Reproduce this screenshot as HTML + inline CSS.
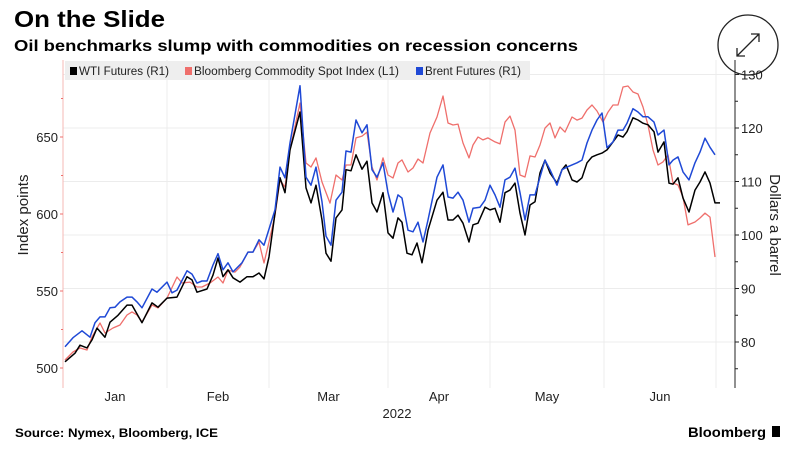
<!DOCTYPE html>
<html><head><meta charset="utf-8">
<style>
body{margin:0;background:#fff;width:795px;height:457px;overflow:hidden;font-family:"Liberation Sans",sans-serif;}
svg{display:block}
</style></head>
<body>
<svg id="chart" width="795" height="457" xmlns="http://www.w3.org/2000/svg">
  <text x="14" y="27" font-size="23" font-weight="bold" fill="#000" textLength="151" lengthAdjust="spacingAndGlyphs">On the Slide</text>
  <text x="14" y="51" font-size="16" font-weight="bold" fill="#000" textLength="564" lengthAdjust="spacingAndGlyphs">Oil benchmarks slump with commodities on recession concerns</text>
  <g>
    <circle cx="748" cy="45" r="30" fill="#fff" stroke="#222" stroke-width="1.3"/>
    <path d="M737 56 L759 34 M751 34 L759 34 L759 42 M737 48 L737 56 L745 56" stroke="#222" stroke-width="1.3" fill="none"/>
  </g>
  <g id="grid"></g>
  <rect x="65" y="61" width="465" height="19" fill="#eeeeee"/>
  <g font-size="11.5" fill="#222">
    <g><rect x="70" y="67" width="7" height="8" fill="#000"/><text x="79" y="75" textLength="90" lengthAdjust="spacingAndGlyphs">WTI Futures (R1)</text></g>
    <g><rect x="185" y="67" width="7" height="8" fill="#ef6f6c"/><text x="194" y="75" textLength="205" lengthAdjust="spacingAndGlyphs">Bloomberg Commodity Spot Index (L1)</text></g>
    <g><rect x="416" y="67" width="7" height="8" fill="#1f49d6"/><text x="425" y="75" textLength="96" lengthAdjust="spacingAndGlyphs">Brent Futures (R1)</text></g>
  </g>
  <g id="axes"></g>
  <g id="series"></g>
  <text transform="translate(28,215) rotate(-90)" text-anchor="middle" font-size="15" fill="#222">Index points</text>
  <text transform="translate(770,225) rotate(90)" text-anchor="middle" font-size="15" fill="#222">Dollars a barrel</text>
  <text x="397" y="418" text-anchor="middle" font-size="13" fill="#222">2022</text>
  <text x="15" y="437" font-size="11.5" font-weight="bold" fill="#000" textLength="203" lengthAdjust="spacingAndGlyphs">Source: Nymex, Bloomberg, ICE</text>
  <g>
    <text x="688" y="437" font-size="14" font-weight="bold" fill="#000" textLength="78" lengthAdjust="spacingAndGlyphs">Bloomberg</text>
    <rect x="772" y="426" width="8" height="11" fill="#000"/>
  </g>
</svg>
<script>
const monthLabels=["Jan","Feb","Mar","Apr","May","Jun"];
const monthBounds=[0,20.8,41.2,65,85.4,108.2,130.6];
const leftTicks=[500,550,600,650];
const rightTicks=[80,90,100,110,120,130];
const brentT=[0.4,2,3.8,5.4,6.4,7.4,8.4,9.4,10.4,11.4,12.8,13.8,14.8,15.8,17.8,18.8,20.8,21.8,22.8,24.8,25.8,26.8,27.8,28.8,30,31,32,33,34,35.8,37,38,39.2,40.2,41.2,42.4,43.4,44.4,45.4,47.4,48.6,49.6,50.6,51.8,52.6,53.6,54.6,55.8,56.6,57.6,58.6,59.8,60.8,61.8,62.8,64,65,66,67,67.8,69,70,71,72,73,74.8,76,77,78,79,80,81.2,82,83.4,84.4,85.4,86.4,87.4,88.4,89.4,90.4,91.4,92.4,93.4,94.4,95.4,96.4,97.4,98.8,99.8,100.8,101.8,102.8,103.8,104.8,105.8,106.8,107.8,108.8,110,111,112,112.8,114,115,116,117,118.2,119,120.2,121.2,122,123,124,125.2,126.4,127.4,128.4,129.4,130.4];
const brentV=[79.1,80.8,82.1,80.9,83.6,84.7,84.7,86.4,86.5,87.5,88.4,88.4,87.5,86.4,89.9,89.3,91.2,89.2,89.7,93.3,92.7,91.0,91.4,91.4,94.4,96.5,93.5,94.8,93.1,94.8,96.8,96.8,99.1,98.1,101.1,104.7,112.7,110.7,117.2,127.9,110.8,109.3,112.7,106.2,99.8,98.1,106.5,108.0,115.7,115.5,121.5,119.1,120.6,112.2,110.8,113.5,107.9,104.3,107.5,106.9,100.9,100.6,102.4,98.7,102.8,110.8,113.1,107.1,106.9,108.0,106.5,102.4,105.0,105.2,106.5,109.3,107.5,105.2,110.3,110.8,112.5,107.9,102.8,107.5,107.5,110.8,114.0,112.2,109.3,112.2,112.7,113.1,113.5,114.0,117.2,119.6,121.5,122.8,116.3,117.4,119.6,119.6,120.9,123.6,123.0,122.1,122.1,121.1,118.7,119.6,113.1,114.0,114.6,111.8,110.3,113.5,115.5,118.1,116.4,115.0];
const wtiT=[0.4,2.4,3.4,4.8,5.8,6.8,8.4,9.4,11,12.8,13.8,15.8,17.8,19,20.8,22.8,24.8,25.8,26.8,28.8,30,31,32,33,34,35.4,36.8,38,39.2,40.2,41.2,42.4,43.4,44.4,45.4,47.4,48.6,49.6,50.6,51.8,52.6,53.6,54.6,55.8,56.6,57.6,58.6,59.8,60.8,61.8,62.8,64,65,66,67,67.8,68.8,69.8,70.8,71.8,73,74.8,76,77,78,79,80,81.2,82,83,84.4,85.4,86.4,87.4,88.4,89.4,90.4,91.4,92.4,93.4,94.4,95.4,96.4,97.4,98.8,99.8,100.6,101.8,102.8,103.8,104.8,105.8,106.8,107.8,108.8,110,111,112,112.8,114,115,116,117,118.2,119,120.2,121.2,122,123,124,125.2,126.4,127.4,128.4,129.4,130.4,131.4];
const wtiV=[76.3,77.9,79.4,78.9,80.4,82.6,80.9,83.7,85.0,86.9,86.9,83.6,87.3,86.5,88.2,88.4,92.2,91.6,89.3,89.9,92.5,95.7,92.2,93.5,92.0,91.2,92.2,92.2,92.9,91.8,95.9,104.1,110.7,107.9,115.9,123.0,108.8,106.0,109.3,102.8,96.6,95.1,103.2,104.7,112.2,112.0,115.0,112.3,113.8,106.0,104.3,107.9,100.4,99.4,103.2,102.4,96.6,96.3,98.5,94.8,100.9,106.5,108.0,102.8,102.8,103.7,102.2,98.7,101.9,102.2,105.2,104.7,105.0,102.4,107.9,108.4,109.7,104.1,100.0,105.6,106.2,111.6,114.0,111.6,109.7,112.2,113.1,110.3,109.9,110.7,113.5,114.6,115.0,115.3,115.9,117.4,118.7,118.3,119.3,121.9,121.5,120.9,120.6,119.3,115.5,117.4,109.7,109.5,110.7,106.9,104.3,108.4,109.9,111.8,109.7,106.0,106.0];
const bcomT=[0.4,2,3.4,4.8,5.8,7.4,8.4,10,11.4,12.8,13.8,14.8,15.8,17.8,19,20.8,22.8,23.8,25.4,26.8,27.8,29.4,31,32,33,34.4,35.4,37,38,39.2,40.2,41.2,42.4,43.4,44.4,45.4,47.4,48.6,49.6,50.6,51.8,53.4,54.6,55.8,56.6,57.6,58.6,59.8,60.8,61.8,62.8,64,65,66,67,67.8,69,70,71,72,73.4,74.8,76,77,78,79,80,81.2,82,83,84,85,86.4,87.4,88.4,89.4,90.4,91.4,92.4,93.4,94.4,95.4,96.4,97.4,98.4,99.4,100.4,101.8,102.8,103.8,104.8,105.8,106.8,108,109,110,111,112,113,114,115,116,117,118,119,120,121,122,123,124,125,126.4,127.4,128.4,129.4,130.4];
const bcomV=[505.2,510.4,513.0,511.7,520.1,529.2,522.7,526.0,527.9,534.4,536.4,534.4,529.9,540.9,539.0,545.4,559.1,555.2,555.8,552.6,552.6,555.2,559.1,555.2,563.6,562.3,565.6,575.3,575.3,581.8,568.2,581.8,599.3,622.1,617.5,641.6,672.1,633.1,630.5,636.4,620.8,607.1,625.3,622.1,631.8,631.8,649.4,650.6,653.2,630.5,622.1,636.4,625.3,623.4,633.1,635.1,627.3,629.9,635.7,633.1,652.6,663.0,676.6,659.1,657.8,658.4,646.1,636.4,644.8,650.0,648.1,649.4,646.8,645.5,659.7,663.6,654.5,625.3,624.0,637.7,637.0,644.8,655.8,659.1,649.4,656.5,653.2,663.0,661.0,662.3,667.5,670.8,666.9,659.7,666.2,670.8,670.8,682.5,683.1,679.2,677.9,669.5,657.8,641.6,631.8,633.8,638.3,620.1,618.8,611.0,592.9,594.8,597.4,600.6,598.0,572.1];

const NS="http://www.w3.org/2000/svg";
const X0=63,X1=735,Y0=60,Y1=388;
function xs(t){return X0+t*5;}
function yl(v){return 137+(650-v)*77/50;}
function yr(v){return 128+(120-v)*53.5/10;}
function mk(tag,attrs,parent){const e=document.createElementNS(NS,tag);for(const k in attrs)e.setAttribute(k,attrs[k]);parent.appendChild(e);return e;}
const grid=document.getElementById('grid'),axes=document.getElementById('axes'),series=document.getElementById('series');
rightTicks.forEach(v=>{
  const l=mk('line',{x1:X0,x2:X1,y1:yr(v),y2:yr(v),stroke:'#ececec','stroke-width':1},grid);
  
  
  const t=mk('line',{x1:X1,x2:X1+4,y1:yr(v),y2:yr(v),stroke:'#222'},axes);
  
  
  const tx=mk('text',{x:X1+6,y:yr(v)+5,'font-size':13,fill:'#222'},axes);tx.textContent=v;
  
  
  const m=mk('line',{x1:X1,x2:X1+3,y1:yr(v-5),y2:yr(v-5),stroke:'#222'},axes);
  
  
});
monthBounds.slice(1).forEach(b=>{
  const l=mk('line',{x1:xs(b),x2:xs(b),y1:Y0,y2:Y1,stroke:'#ececec'},grid);
  
  
});
monthLabels.forEach((m,i)=>{
  const tx=mk('text',{x:(xs(monthBounds[i])+xs(monthBounds[i+1]))/2,y:401,'text-anchor':'middle','font-size':13,fill:'#222'},axes);tx.textContent=m;
  
  
});
const la=mk('line',{x1:X0,x2:X0,y1:Y0,y2:Y1,stroke:'#f4b8b6'},axes);


const ra=mk('line',{x1:X1,x2:X1,y1:Y0,y2:Y1,stroke:'#222'},axes);


leftTicks.forEach(v=>{
  const t=mk('line',{x1:X0-3,x2:X0,y1:yl(v),y2:yl(v),stroke:'#ef6f6c'},axes);
  
  
  const tx=mk('text',{x:X0-5,y:yl(v)+5,'text-anchor':'end','font-size':13,fill:'#222'},axes);tx.textContent=v;
  
  
  const m=mk('line',{x1:X0-2,x2:X0,y1:yl(v+25),y2:yl(v+25),stroke:'#ef6f6c'},axes);
  
  
});
function line(ts,vs,yf){return ts.map((t,i)=>(i?'L':'M')+xs(t).toFixed(1)+' '+yf(vs[i]).toFixed(1)).join(' ');}
const p1=mk('path',{d:line(bcomT,bcomV,yl),stroke:'#ef6f6c',fill:'none','stroke-width':1.3,'stroke-linejoin':'round'},series);


const p2=mk('path',{d:line(wtiT,wtiV,yr),stroke:'#000',fill:'none','stroke-width':1.5,'stroke-linejoin':'round'},series);


const p3=mk('path',{d:line(brentT,brentV,yr),stroke:'#1f49d6',fill:'none','stroke-width':1.5,'stroke-linejoin':'round'},series);


</script>
</body></html>
